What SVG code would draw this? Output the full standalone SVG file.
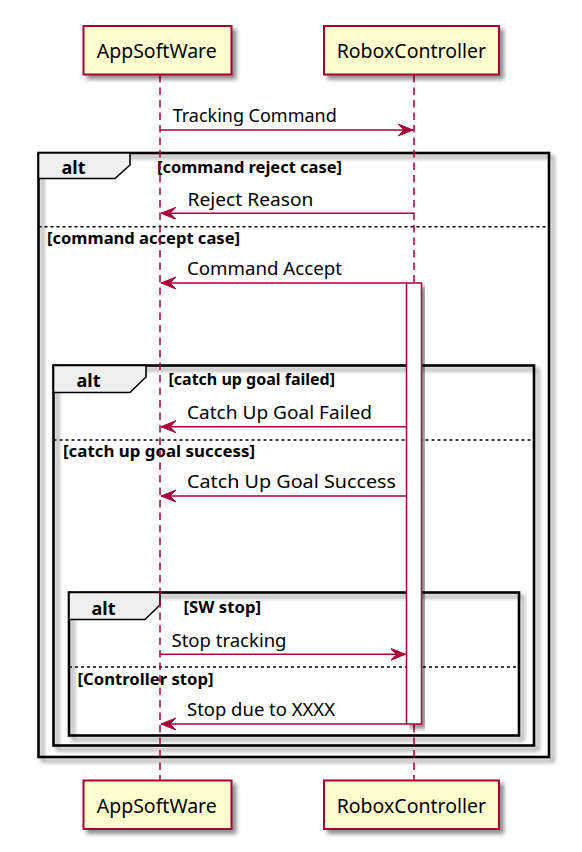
<svg xmlns="http://www.w3.org/2000/svg" width="582" height="852" viewBox="0 0 582 852">
<style>
.pbox{fill:#FEFECE;stroke:#A80036;stroke-width:2}
.pt{font-family:"Noto Sans","Open Sans",sans-serif;font-size:19.5px;fill:#000}
.life{stroke:#A80036;stroke-width:1.5;stroke-dasharray:7.5,5;fill:none}
.msg{stroke:#A80036;stroke-width:1.5;fill:none}
.mt{font-family:"Noto Sans","Open Sans",sans-serif;font-size:18.5px;fill:#000}
.frame{fill:none;stroke:#000;stroke-width:2.6}
.tab{fill:#EEEEEE;stroke:#000;stroke-width:1.6}
.sep{stroke:#000;stroke-width:1.5;stroke-dasharray:3,3}
.alt{font-family:"Noto Sans","Open Sans",sans-serif;font-size:18px;font-weight:bold;fill:#000}
.gd{font-family:"Noto Sans","Open Sans",sans-serif;font-size:16.5px;font-weight:bold;fill:#000}
.act{fill:#FFFFFF;stroke:#A80036;stroke-width:1.5}
</style>
<defs>
<filter id="sh" x="-10%" y="-10%" width="130%" height="130%">
<feGaussianBlur in="SourceAlpha" stdDeviation="2"/>
<feOffset dx="4" dy="4" result="o"/>
<feComponentTransfer><feFuncA type="linear" slope="0.45"/></feComponentTransfer>
<feMerge><feMergeNode/><feMergeNode in="SourceGraphic"/></feMerge>
</filter>
<marker id="ah" markerWidth="16" markerHeight="13" refX="15" refY="6" orient="auto" markerUnits="userSpaceOnUse">
<polygon points="0,0 15,6 0,12 6,6" fill="#A80036" stroke="#A80036" stroke-width="1"/>
</marker>
</defs>

<g id="frames">
<g id="alt-outer">
<rect class="frame" x="38.5" y="153" width="510.5" height="604" filter="url(#sh)"/>
<polygon class="tab" points="38.5,153 130,153 130,165 115,178.5 38.5,178.5"/>
<text class="alt" x="61.5" y="174">alt</text>
<text class="gd" x="157" y="172.5" textLength="185" lengthAdjust="spacingAndGlyphs">[command reject case]</text>
<line class="sep" x1="38.5" y1="226.7" x2="549" y2="226.7"/>
<text class="gd" x="47" y="243.5" textLength="193" lengthAdjust="spacingAndGlyphs">[command accept case]</text>
</g>
<g id="alt-goal">
<rect class="frame" x="53.5" y="365.5" width="480.5" height="380" filter="url(#sh)"/>
<polygon class="tab" points="53.5,365.5 146,365.5 146,377 130,392.5 53.5,392.5"/>
<text class="alt" x="76.5" y="386.5">alt</text>
<text class="gd" x="168.5" y="385" textLength="166.5" lengthAdjust="spacingAndGlyphs">[catch up goal failed]</text>
<line class="sep" x1="53.5" y1="440" x2="534" y2="440"/>
<text class="gd" x="63" y="456.5" textLength="192" lengthAdjust="spacingAndGlyphs">[catch up goal success]</text>
</g>
<g id="alt-stop">
<rect class="frame" x="69" y="592.5" width="450" height="143" filter="url(#sh)"/>
<polygon class="tab" points="69,592.5 160,592.5 160,605 145,619.5 69,619.5"/>
<text class="alt" x="91.5" y="614.5">alt</text>
<text class="gd" x="183.5" y="613" textLength="77.5" lengthAdjust="spacingAndGlyphs">[SW stop]</text>
<line class="sep" x1="69" y1="667" x2="519" y2="667"/>
<text class="gd" x="77.5" y="685" textLength="136" lengthAdjust="spacingAndGlyphs">[Controller stop]</text>
</g>
</g>

<g id="lifelines">
<line class="life" x1="160" y1="75" x2="160" y2="781"/>
<line class="life" x1="414" y1="75" x2="414" y2="781"/>
</g>

<g id="activation">
<rect class="act" x="406.5" y="283" width="15" height="441" filter="url(#sh)"/>
</g>

<g id="AppSoftWare-top">
<rect class="pbox" x="83.5" y="26" width="148" height="48.5" filter="url(#sh)"/>
<text class="pt" x="96.7" y="58.3">AppSoftWare</text>
</g>
<g id="RoboxController-top">
<rect class="pbox" x="324" y="26" width="175" height="48.5" filter="url(#sh)"/>
<text class="pt" x="336.7" y="58.3">RoboxController</text>
</g>
<g id="AppSoftWare-bottom">
<rect class="pbox" x="83.5" y="780.5" width="148" height="48.5" filter="url(#sh)"/>
<text class="pt" x="96.7" y="813">AppSoftWare</text>
</g>
<g id="RoboxController-bottom">
<rect class="pbox" x="324" y="780.5" width="175" height="48.5" filter="url(#sh)"/>
<text class="pt" x="336.7" y="813">RoboxController</text>
</g>

<g id="connectors">
<line class="msg" x1="160" y1="130" x2="413" y2="130" marker-end="url(#ah)"/>
<text class="mt" x="172.7" y="122" textLength="164" lengthAdjust="spacingAndGlyphs">Tracking Command</text>
<line class="msg" x1="414" y1="213.3" x2="161" y2="213.3" marker-end="url(#ah)"/>
<text class="mt" x="187.5" y="205.5" textLength="126" lengthAdjust="spacingAndGlyphs">Reject Reason</text>
<line class="msg" x1="406.5" y1="283" x2="161" y2="283" marker-end="url(#ah)"/>
<text class="mt" x="187" y="275" textLength="155" lengthAdjust="spacingAndGlyphs">Command Accept</text>
<line class="msg" x1="406.5" y1="426.7" x2="161" y2="426.7" marker-end="url(#ah)"/>
<text class="mt" x="187" y="418.5" textLength="185" lengthAdjust="spacingAndGlyphs">Catch Up Goal Failed</text>
<line class="msg" x1="406.5" y1="496" x2="161" y2="496" marker-end="url(#ah)"/>
<text class="mt" x="187" y="488" textLength="209" lengthAdjust="spacingAndGlyphs">Catch Up Goal Success</text>
<line class="msg" x1="160" y1="654.3" x2="405.5" y2="654.3" marker-end="url(#ah)"/>
<text class="mt" x="171.5" y="646.5" textLength="115" lengthAdjust="spacingAndGlyphs">Stop tracking</text>
<line class="msg" x1="406.5" y1="724" x2="161" y2="724" marker-end="url(#ah)"/>
<text class="mt" x="187" y="716" textLength="148" lengthAdjust="spacingAndGlyphs">Stop due to XXXX</text>
</g>
</svg>
